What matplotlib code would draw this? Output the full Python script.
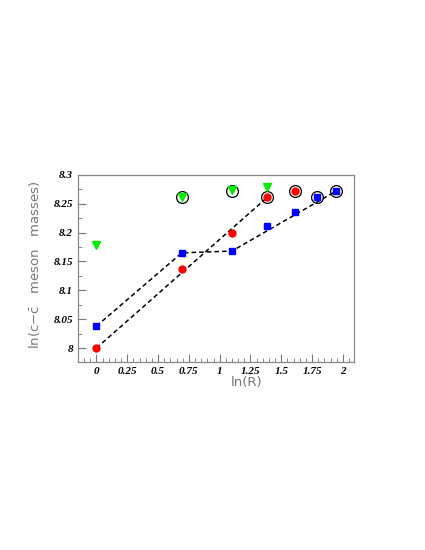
import numpy as np
import matplotlib
matplotlib.use('Agg')
import matplotlib.pyplot as plt
from matplotlib.ticker import MultipleLocator

# data
x_red = [0.0, 0.693, 1.099, 1.386, 1.609]
y_red = [8.000, 8.137, 8.200, 8.261, 8.272]

x_blue = [0.0, 0.693, 1.099, 1.386, 1.609, 1.792, 1.946]
y_blue = [8.038, 8.165, 8.168, 8.212, 8.235, 8.261, 8.272]

x_green = [0.0, 0.693, 1.099, 1.386]
y_green = [8.178, 8.262, 8.274, 8.279]

x_ring = [0.693, 1.099, 1.386, 1.609, 1.792, 1.946]
y_ring = [8.261, 8.272, 8.261, 8.272, 8.261, 8.272]

# dashed guide lines
x_line1 = [0.0, 1.386]
y_line1 = [8.000, 8.261]
x_line2 = [0.0, 0.693, 1.099, 1.946]
y_line2 = [8.038, 8.165, 8.168, 8.272]

fig = plt.figure(figsize=(4.25, 5.5), dpi=100)
ax = fig.add_axes([0.1835, 0.342, 0.6494, 0.340])

ax.plot(x_line1, y_line1, color='black', linestyle=(0, (3, 2)), linewidth=1.1, zorder=2)
ax.plot(x_line2, y_line2, color='black', linestyle=(0, (3, 2)), linewidth=1.1, zorder=2)

ax.plot(x_ring, y_ring, linestyle='none', marker='o', markersize=8.5,
        markerfacecolor='none', markeredgecolor='black', markeredgewidth=0.9, zorder=3)
ax.plot(x_red, y_red, linestyle='none', marker='o', markersize=5,
        color='#ff0000', zorder=4)
ax.plot(x_blue, y_blue, linestyle='none', marker='s', markersize=4.5,
        color='#0000ff', zorder=4)
ax.plot(x_green, y_green, linestyle='none', marker='v', markersize=5.5,
        color='#00ee00', zorder=4)

ax.set_xlim(-0.15, 2.09)
ax.set_ylim(7.976, 8.3)

ax.xaxis.set_major_locator(MultipleLocator(0.25))
ax.xaxis.set_minor_locator(MultipleLocator(0.05))
ax.yaxis.set_major_locator(MultipleLocator(0.05))
ax.yaxis.set_minor_locator(MultipleLocator(0.025))
ax.set_xticks([0, 0.25, 0.5, 0.75, 1, 1.25, 1.5, 1.75, 2])
ax.set_xticklabels(['0', '0.25', '0.5', '0.75', '1', '1.25', '1.5', '1.75', '2'])
ax.set_yticks([8, 8.05, 8.1, 8.15, 8.2, 8.25, 8.3])
ax.set_yticklabels(['8', '8.05', '8.1', '8.15', '8.2', '8.25', '8.3'])

ax.tick_params(which='both', direction='in', top=False, right=False, color='#777777')
ax.tick_params(which='major', length=6, width=0.8)
ax.tick_params(which='minor', length=3, width=0.6)
for lab in ax.get_xticklabels() + ax.get_yticklabels():
    lab.set_fontfamily('Liberation Serif')
    lab.set_fontstyle('italic')
    lab.set_fontweight('bold')
    lab.set_fontsize(8)
for s in ax.spines.values():
    s.set_color('#888888')
    s.set_linewidth(0.9)

ax.set_xlabel('ln(R)', color='#777777', fontsize=9.5, labelpad=0)
ax.xaxis.set_label_coords(0.61, -0.075)
ax.set_ylabel(r'ln(c$-\bar{\mathrm{c}}$   meson   masses)', color='#777777', fontsize=9.5)
ax.yaxis.set_label_coords(-0.13, 0.52)

fig.savefig('out.png', dpi=100)
